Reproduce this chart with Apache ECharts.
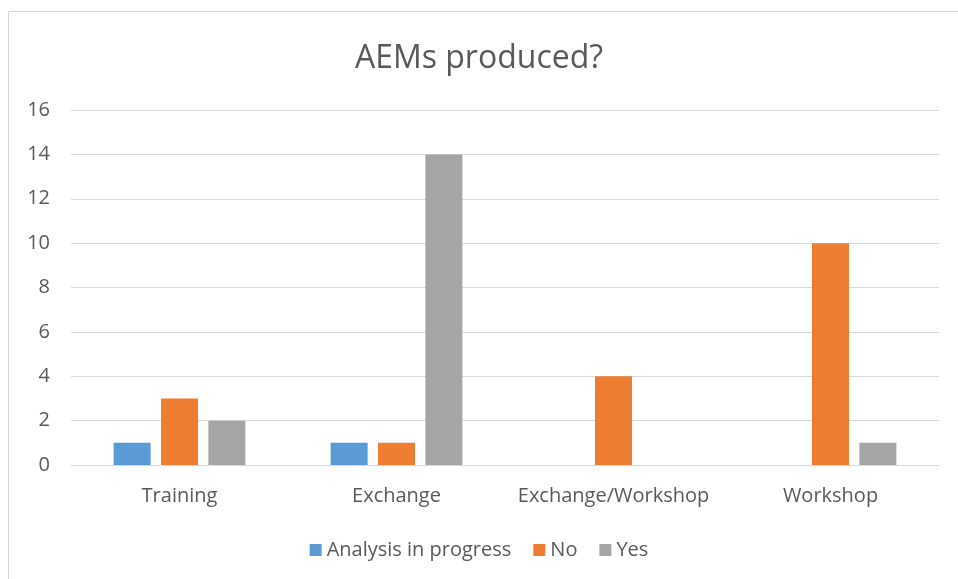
<!DOCTYPE html>
<html>
<head>
<meta charset="utf-8">
<script src="https://cdn.jsdelivr.net/npm/echarts@6/dist/echarts.min.js"></script>
<style>
  html, body { margin: 0; padding: 0; background: #fff; }
  #chart { width: 958px; height: 579px; }
</style>
</head>
<body>
<div id="chart"></div>
<script>
var categories = ["Training", "Exchange", "Exchange/Workshop", "Workshop"];
var analysisInProgress = [1, 1, null, null];
var no = [3, 1, 4, 10];
var yes = [2, 14, null, 1];

var textColor = "#595959";
var fontFamily = "Open Sans, Noto Sans, sans-serif";

var chart = echarts.init(document.getElementById("chart"));
chart.setOption({
  animation: false,
  textStyle: { fontFamily: fontFamily },
  graphic: [
    {
      type: "rect",
      shape: { x: 8.5, y: 11.5, width: 1000, height: 600 },
      style: { fill: "none", stroke: "#d9d9d9", lineWidth: 1 },
      silent: true
    }
  ],
  title: {
    text: "AEMs produced?",
    left: "center",
    top: 38,
    textStyle: {
      fontSize: 32,
      fontWeight: "normal",
      color: textColor,
      fontFamily: fontFamily
    }
  },
  legend: {
    bottom: 14,
    left: "center",
    icon: "rect",
    itemWidth: 12,
    itemHeight: 12,
    itemGap: 22,
    textStyle: { fontSize: 20, color: textColor },
    data: ["Analysis in progress", "No", "Yes"]
  },
  grid: {
    left: 71,
    right: 19,
    top: 110,
    bottom: 114
  },
  xAxis: {
    type: "category",
    data: categories,
    axisTick: { show: false },
    axisLine: { lineStyle: { color: "#d9d9d9", width: 1 } },
    axisLabel: { color: textColor, fontSize: 20, margin: 21, interval: 0 }
  },
  yAxis: {
    type: "value",
    min: 0,
    max: 16,
    interval: 2,
    axisLine: { show: false },
    axisTick: { show: false },
    axisLabel: { color: textColor, fontSize: 20, margin: 21 },
    splitLine: { lineStyle: { color: "#d9d9d9", width: 1 } }
  },
  series: [
    {
      name: "Analysis in progress",
      type: "bar",
      data: analysisInProgress,
      barWidth: 37,
      barGap: "28%",
      itemStyle: { color: "#5b9bd5" }
    },
    {
      name: "No",
      type: "bar",
      data: no,
      barWidth: 37,
      barGap: "28%",
      itemStyle: { color: "#ed7d31" }
    },
    {
      name: "Yes",
      type: "bar",
      data: yes,
      barWidth: 37,
      barGap: "28%",
      itemStyle: { color: "#a5a5a5" }
    }
  ]
});
</script>
</body>
</html>
